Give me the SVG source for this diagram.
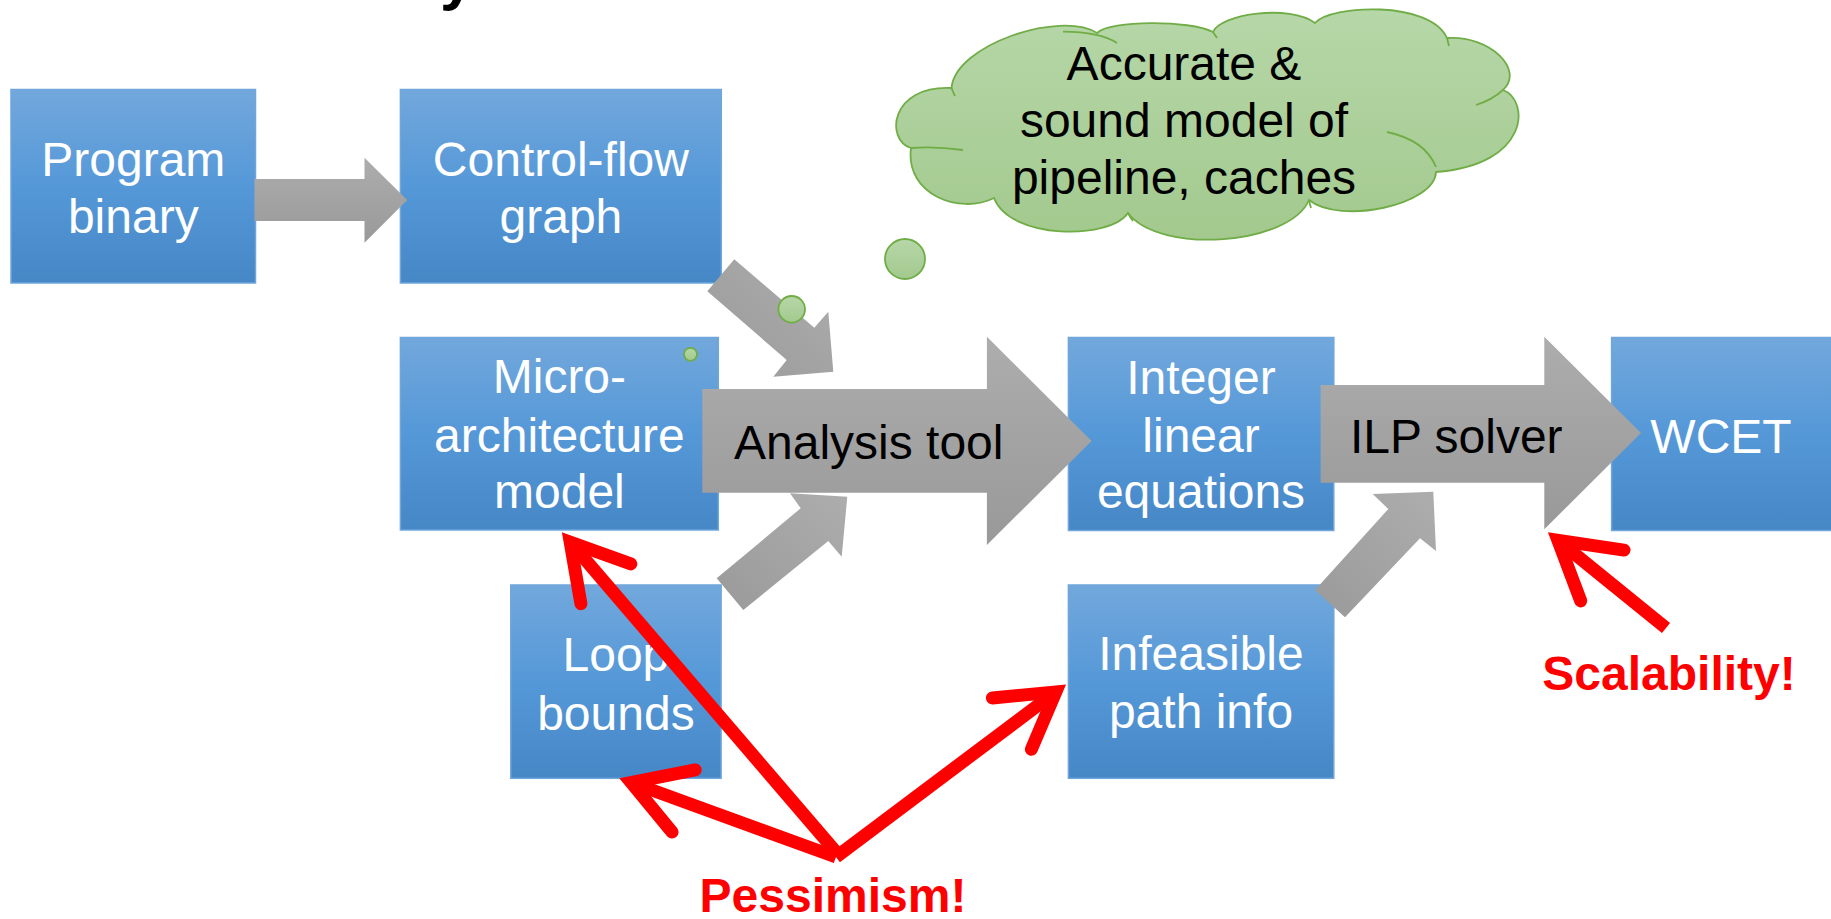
<svg xmlns="http://www.w3.org/2000/svg" width="1831" height="919" viewBox="0 0 1831 919">
  <defs>
    <linearGradient id="blueFill" x1="0" y1="0" x2="0" y2="1">
      <stop offset="0" stop-color="#72a8dc"/>
      <stop offset="0.5" stop-color="#5598d8"/>
      <stop offset="1" stop-color="#4687c6"/>
    </linearGradient>
    <linearGradient id="grayFill" x1="0" y1="0" x2="0" y2="1">
      <stop offset="0" stop-color="#adadad"/>
      <stop offset="1" stop-color="#999999"/>
    </linearGradient>
    <linearGradient id="grayDiag" x1="1" y1="0" x2="0" y2="1">
      <stop offset="0" stop-color="#adadad"/>
      <stop offset="1" stop-color="#9a9a9a"/>
    </linearGradient>
    <linearGradient id="greenFill" x1="0" y1="0" x2="0" y2="1">
      <stop offset="0" stop-color="#b6d7a8"/>
      <stop offset="1" stop-color="#a3c98e"/>
    </linearGradient>
    <style>
      .box { fill: url(#blueFill); stroke: #6fa6db; stroke-width: 1.5; }
      .boxText { font-family: "Liberation Sans", Arial, sans-serif; font-size: 48px; fill: #ffffff; text-anchor: middle; }
      .darkText { font-family: "Liberation Sans", Arial, sans-serif; font-size: 48px; fill: #000000; }
      .grayArrow { fill: url(#grayFill); }
      .grayDiag { fill: url(#grayDiag); }
      .bubble { fill: url(#greenFill); stroke: #70ad47; stroke-width: 1.8; }
      .bubbleLine { fill: none; stroke: #70ad47; stroke-width: 1.8; }
      .redArrow { fill: none; stroke: #ff0000; stroke-width: 13; stroke-linejoin: miter; stroke-linecap: round; }
      .redShaft { fill: none; stroke: #ff0000; stroke-width: 13; stroke-linecap: butt; }
      .alert { font-family: "Liberation Sans", Arial, sans-serif; font-size: 48px; font-weight: bold; fill: #ff0000; text-anchor: middle; }
    </style>
  </defs>

  <rect width="1831" height="919" fill="#ffffff"/>

  <!-- descender of the heading above the frame -->
  <text x="440" y="-2" font-family="Liberation Sans, Arial, sans-serif" font-size="62" font-weight="bold" fill="#000000">y</text>

  <!-- thought cloud -->
  <g id="cloud">
    <path class="bubble" d="M951.5 88 C955 45 1060 10 1097 33 C1110 20 1190 20 1213 32 C1220 14 1290 4 1315 23 C1330 5 1430 0 1447 38 C1490 35 1525 70 1503 90 C1530 100 1530 165 1436 172 C1435 205 1340 225 1309 200 C1290 245 1160 255 1128 213 C1110 240 1010 240 994 198 C960 215 905 195 911 148 C885 140 890 85 951.5 88 Z"/>
    <path class="bubbleLine" d="M1063 31.7 Q1100 32 1117 43"/>
    <path class="bubbleLine" d="M1503 90 Q1492 100 1476 105"/>
    <path class="bubbleLine" d="M1387 132 Q1425 140 1436 167"/>
    <path class="bubbleLine" d="M911 148 Q935 146 963 150"/>
    <path class="bubbleLine" d="M951.5 88 Q953 92 955 96"/>
    <path class="bubbleLine" d="M1213 32 Q1215 35 1217 38"/>
    <path class="bubbleLine" d="M1447 38 Q1448 42 1449 46"/>
    <path class="bubbleLine" d="M1309 200 Q1310 205 1311 208"/>
    <path class="bubbleLine" d="M1128 213 Q1130 217 1133 221"/>
    <text class="darkText" text-anchor="middle" x="1184" y="80">Accurate &amp;</text>
    <text class="darkText" text-anchor="middle" x="1184" y="137">sound model of</text>
    <text class="darkText" text-anchor="middle" x="1184" y="194">pipeline, caches</text>
  </g>

  <!-- input and result blocks -->
  <g id="program-binary">
    <rect class="box" x="11" y="89.5" width="244.5" height="193.5"/>
    <text class="boxText" x="133.3" y="175.7">Program</text>
    <text class="boxText" x="133.3" y="233.3">binary</text>
  </g>
  <g id="control-flow-graph">
    <rect class="box" x="400.4" y="89.5" width="320.9" height="193.5"/>
    <text class="boxText" x="560.9" y="175.7">Control-flow</text>
    <text class="boxText" x="560.9" y="233.3">graph</text>
  </g>
  <g id="micro-architecture-model">
    <rect class="box" x="400.4" y="337.5" width="317.9" height="192.5"/>
    <text class="boxText" x="559.4" y="393.3">Micro-</text>
    <text class="boxText" x="559.4" y="451.7">architecture</text>
    <text class="boxText" x="559.4" y="508.3">model</text>
  </g>
  <g id="loop-bounds">
    <rect class="box" x="510.8" y="585" width="210.3" height="193.3"/>
    <text class="boxText" x="615.9" y="671">Loop</text>
    <text class="boxText" x="615.9" y="730">bounds</text>
  </g>
  <g id="integer-linear-equations">
    <rect class="box" x="1068.4" y="337.5" width="265.4" height="193"/>
    <text class="boxText" x="1201" y="394">Integer</text>
    <text class="boxText" x="1201" y="451.7">linear</text>
    <text class="boxText" x="1201" y="508.3">equations</text>
  </g>
  <g id="infeasible-path-info">
    <rect class="box" x="1068.4" y="585" width="265.4" height="193.3"/>
    <text class="boxText" x="1201" y="670">Infeasible</text>
    <text class="boxText" x="1201" y="728.3">path info</text>
  </g>
  <g id="wcet">
    <rect class="box" x="1611.6" y="337.5" width="225" height="193"/>
    <text class="boxText" x="1721" y="452.7">WCET</text>
  </g>

  <!-- block arrows between stages -->
  <g id="connectors">
    <polygon class="grayArrow" points="254.5,179 364.5,179 364.5,157.7 407.2,200 364.5,242.7 364.5,221 254.5,221"/>
    <polygon class="grayDiag" points="734.3,259.3 814.3,327.7 828.3,311.7 833.3,371.7 773.3,376.7 786.7,360 707.3,291.3"/>
    <polygon class="grayDiag" points="716.7,578.3 800.7,508.3 790,493.3 847.3,496.7 841.7,556.7 828.3,541 743.3,610"/>
    <g id="analysis-tool">
      <polygon class="grayArrow" points="702.3,389 986.9,389 986.9,336.7 1091.6,441 986.9,545 986.9,492.7 702.3,492.7"/>
      <text class="darkText" x="734" y="459">Analysis tool</text>
    </g>
    <polygon class="grayDiag" points="1315,590 1388.3,509 1372.7,494 1433.3,491.7 1436,551 1420,538.3 1345,617.3"/>
    <g id="ilp-solver">
      <polygon class="grayArrow" points="1320.6,385 1544.3,385 1544.3,336.7 1641,433 1544.3,529.3 1544.3,482.7 1320.6,482.7"/>
      <text class="darkText" x="1350" y="452.7">ILP solver</text>
    </g>
  </g>

  <!-- trail of thought bubbles leading to the cloud -->
  <g id="thought-trail">
    <ellipse class="bubble" cx="905" cy="259" rx="20" ry="20"/>
    <ellipse class="bubble" cx="791.7" cy="309.3" rx="13.3" ry="13.3"/>
    <ellipse class="bubble" cx="690.5" cy="354.3" rx="6.5" ry="6.5"/>
  </g>

  <!-- red call-outs -->
  <g id="pessimism">
    <line class="redShaft" x1="836" y1="852" x2="570.2" y2="542.1"/>
    <path class="redArrow" d="M630.8 563.9 L570.2 542.1 L580.9 603.7"/>
    <line class="redShaft" x1="836" y1="857" x2="631.2" y2="782.5"/>
    <path class="redArrow" d="M695.2 769.9 L631.2 782.5 L672.1 832.1"/>
    <line class="redShaft" x1="836" y1="857" x2="1055.8" y2="691.9"/>
    <path class="redArrow" d="M992.4 698 L1055.8 691.9 L1031.4 749.3"/>
    <text class="alert" x="833" y="912">Pessimism!</text>
  </g>
  <g id="scalability">
    <line class="redShaft" x1="1666" y1="628" x2="1557.9" y2="540.4"/>
    <path class="redArrow" d="M1624 550.1 L1557.9 540.4 L1580.7 600.9"/>
    <text class="alert" x="1669" y="690">Scalability!</text>
  </g>
</svg>
